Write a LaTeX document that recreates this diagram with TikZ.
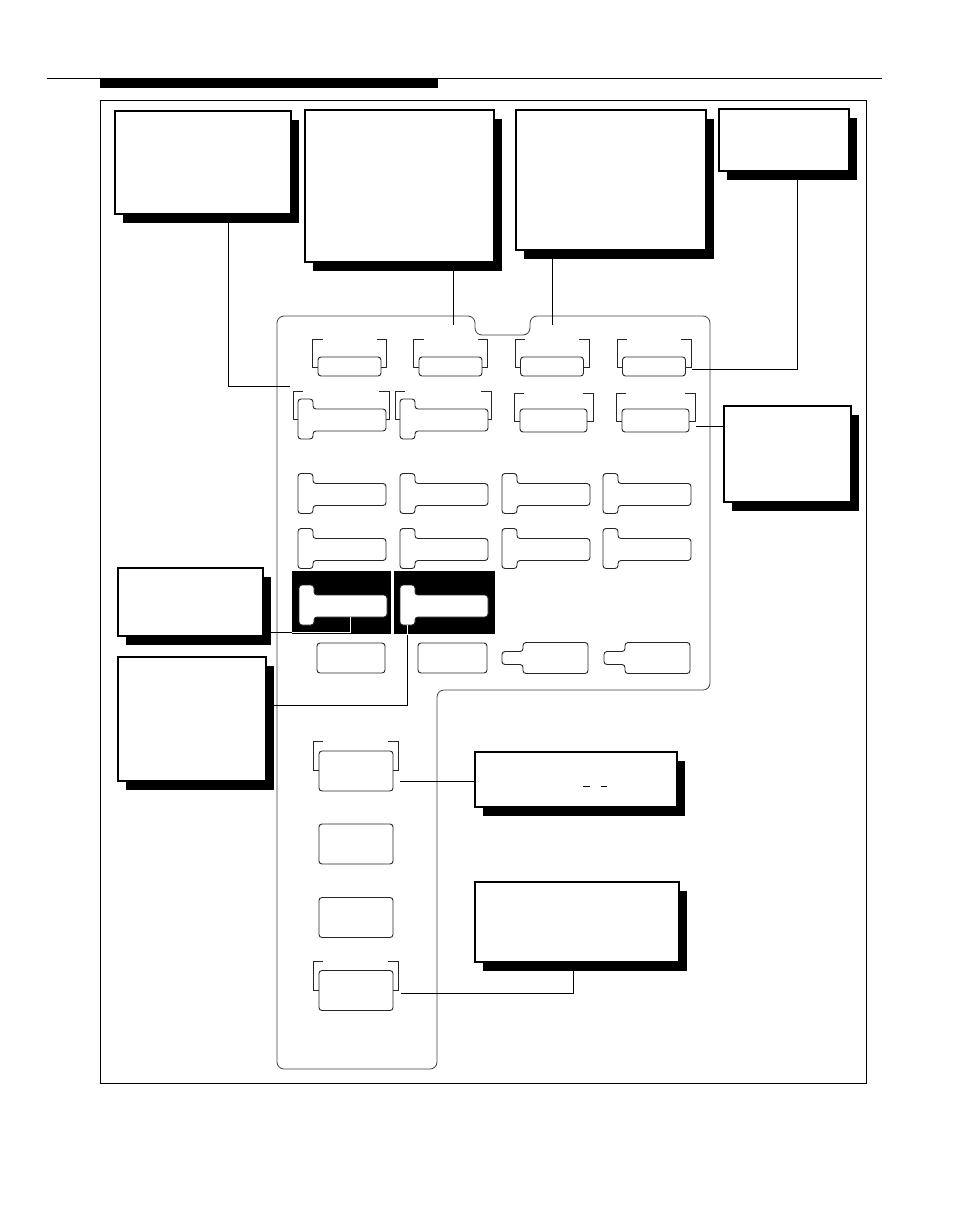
\documentclass[tikz,border=0pt]{standalone}
\usetikzlibrary{shadows}

\tikzset{
  tkey/.pic={
    \draw[keyline, rounded corners=3pt, fill=white] (0,-20) -- (15,-20) -- (15,-10) -- (88,-10) -- (88,12) -- (15,12) -- (15,20) -- (0,20) -- cycle;
    \coordinate (-tab) at (7.5,20);
    \coordinate (-body) at (51,12);
  },
  plugkey/.pic={
    \draw[keyline, rounded corners=3pt, fill=white] (0,-6.5) -- (21,-6.5) -- (21,-15.5) -- (86,-15.5) -- (86,15.5) -- (21,15.5) -- (21,6.5) -- (0,6.5) -- cycle;
  },
}

\begin{document}
\begin{tikzpicture}[x=1pt,y=-1pt,
  callout/.style={draw, line width=1.1pt, fill=white, inner sep=0pt, outer sep=0pt,
    drop shadow={shadow xshift=8pt, shadow yshift=-9pt, opacity=1, fill=black}},
  keyline/.style={draw=black!85, line width=0.9pt},
  keybox/.style={keyline, rounded corners=3pt, fill=white, inner sep=0pt, outer sep=0pt},
  panel/.style={draw=black!75, line width=0.8pt, rounded corners=7pt},
  lead/.style={draw, line width=0.8pt},
]
\useasboundingbox (0,0) rectangle (954,1229);
% Header and frame
\draw[line width=1pt] (47,78) -- (882,78);
\fill (100,79) rectangle (438,88);
\draw[line width=1pt] (100,100) rectangle (866,1083);
% Keypad outline
\draw[panel] (277,1069) -- (277,316) -- (475,316) -- (475,335) -- (530,335) -- (530,316) -- (710,316) -- (710,690) -- (437,690) -- (437,1069) -- cycle;
% Row 1
\foreach \x [count=\i] in {349.5,450.5,552,654}{
  \node[keybox, minimum width=63pt, minimum height=19pt] (k1\i) at (\x,366.5) {};
  \draw[keyline] (\x-27,339) -| (\x-37,367) -- (\x-31.5,367);
  \draw[keyline] (\x+27,339) -| (\x+37,367) -- (\x+31.5,367);
}
% Row 2
\foreach \x [count=\i] in {298,400}{
  \pic (k2\i) at (\x,419) {tkey};
  \draw[keyline] (\x+5,391) -| (\x-5,419) -- (\x,419);
  \draw[keyline] (\x+81,391) -| (\x+91,419) -- (\x+88,419);
}
\foreach \x [count=\i from 3] in {553.5,655.5}{
  \node[keybox, minimum width=67pt, minimum height=23pt] (k2\i) at (\x,420.5) {};
  \draw[keyline] (\x-29.5,393) -| (\x-39.5,421) -- (\x-33.5,421);
  \draw[keyline] (\x+29.5,393) -| (\x+39.5,421) -- (\x+33.5,421);
}
% Rows 3 and 4
\foreach \y [count=\r from 3] in {493.5,548.5}
  \foreach \x [count=\i] in {298,400,502,603}
    \pic (k\r\i) at (\x,\y) {tkey};
% Row 5 (highlighted)
\node[fill=black, inner sep=0pt, minimum width=99pt, minimum height=63pt] (hl1) at (341.5,602.5) {};
\node[fill=black, inner sep=0pt, minimum width=101pt, minimum height=63pt] (hl2) at (444.5,602.5) {};
\pic (k51) at (299,605) {tkey};
\pic (k52) at (400,605) {tkey};
% Row 6
\node[keybox, minimum width=68pt, minimum height=30pt] (k61) at (351,658) {};
\node[keybox, minimum width=69pt, minimum height=30pt] (k62) at (452.5,658) {};
\pic (k63) at (502,658) {plugkey};
\pic (k64) at (604,658) {plugkey};
% Lower column
\foreach \y [count=\i] in {771,844,917.5,990.5}
  \node[keybox, minimum width=74pt, minimum height=40pt] (kL\i) at (356,\y) {};
\foreach \y in {741,961}{
  \draw[keyline] (323,\y) -| (313,\y+29) -- (319,\y+29);
  \draw[keyline] (388,\y) -| (398,\y+29) -- (393,\y+29);
}
% Callouts
\node[callout, minimum width=176pt, minimum height=103pt] (boxA) at (203,162.5) {};
\node[callout, minimum width=189pt, minimum height=152pt] (boxB) at (399.5,186) {};
\node[callout, minimum width=190pt, minimum height=140pt] (boxC) at (611,180) {};
\node[callout, minimum width=130pt, minimum height=62pt] (boxD) at (784,140) {};
\node[callout, minimum width=127pt, minimum height=96pt] (boxE) at (787.5,454) {};
\node[callout, minimum width=145pt, minimum height=68pt] (boxF) at (190.5,602) {};
\node[callout, minimum width=148pt, minimum height=124pt] (boxG) at (192,719) {};
\node[callout, minimum width=202pt, minimum height=55pt] (boxH) at (576,779.5) {};
\node[callout, minimum width=204pt, minimum height=80pt] (boxI) at (577,922) {};
\draw[line width=0.8pt] (583,786) -- (590,786) (601,786) -- (607,786);
% Leaders
\coordinate (aEnd) at (290,386);
\coordinate (bEnd) at (453,325);
\coordinate (cEnd) at (552,325);
\coordinate (dEnd) at (692,369);
\coordinate (eEnd) at (696,426);
\coordinate (hEnd) at (400,781);
\coordinate (iEnd) at (401,993);
\draw[lead] ([xshift=25pt]boxA.south) |- (aEnd);
\draw[lead] (bEnd |- boxB.south) -- (bEnd);
\draw[lead] (cEnd |- boxC.south) -- (cEnd);
\draw[lead] ([xshift=13pt]boxD.south) |- (dEnd);
\draw[lead] (boxE.west |- eEnd) -- (eEnd);
\draw[lead] ([yshift=-30pt]boxF.east) -| (k51-body);
\draw[lead] ([yshift=14pt]boxG.east) -| (k52-tab);
\draw[lead] (boxH.west |- hEnd) -- (hEnd);
\draw[lead] ([xshift=-4pt]boxI.south) |- (iEnd);
\begin{scope}
  \clip (hl1.north west) rectangle (hl2.south east);
  \draw[lead, white] ([yshift=-30pt]boxF.east) -| (k51-body);
  \draw[lead, white] ([yshift=14pt]boxG.east) -| (k52-tab);
\end{scope}
\end{tikzpicture}
\end{document}
